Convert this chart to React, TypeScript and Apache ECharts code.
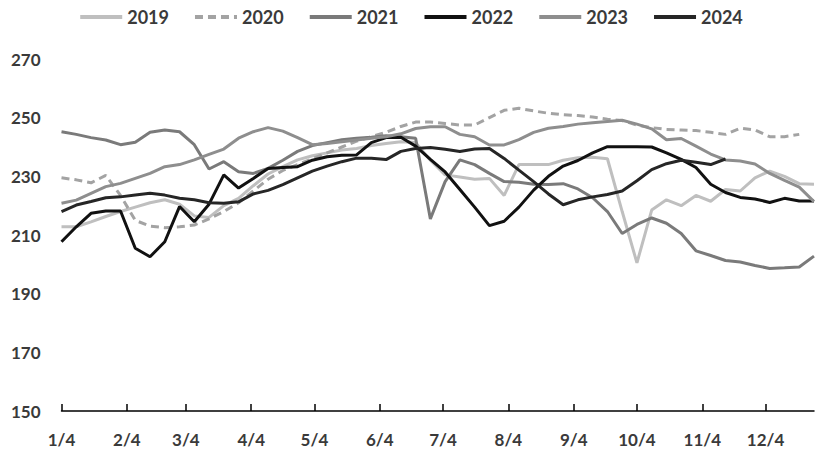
import React, { useEffect, useRef } from "react";
import * as echarts from "echarts";

// x positions are days counted from 1/4; one point per week
const weekStep = 7;
const monthDays = [0, 31, 59, 90, 120, 151, 181, 212, 243, 273, 304, 334];
const monthLabels = ["1/4", "2/4", "3/4", "4/4", "5/4", "6/4", "7/4", "8/4", "9/4", "10/4", "11/4", "12/4"];

const years = ["2019", "2020", "2021", "2022", "2023", "2024"];

const s2019 = [212.8, 212.8, 214.5, 216.3, 218, 219.5, 221, 222, 220.5, 216.5, 216, 220, 222.5, 226.8, 230.8, 233.3, 235.6, 237, 238, 239, 239.5, 240.5, 241.2, 241.8, 241.5, 235.5, 230.5, 229.8, 229, 229.3, 223.5, 234, 234, 234, 235.5, 236.3, 236.5, 236, 218, 200.5, 218.5, 222, 220, 223.5, 221.5, 225.5, 225, 229.5, 231.8, 230, 227.5, 227.3];
const s2020 = [229.5, 228.8, 227.8, 230.3, 223.5, 215, 213, 212.5, 212.8, 213.4, 215.5, 218, 221, 225, 229, 232, 234, 236, 238, 240, 242, 243.5, 245, 247, 248.5, 248.5, 248, 247.5, 247.5, 250, 252.5, 253.2, 252.3, 251.5, 251, 250.7, 250.2, 249.5, 249, 247.5, 246.6, 246, 245.8, 245.6, 245, 244.3, 246.4, 245.8, 243.5, 243.5, 244.3];
const s2021 = [245.2, 244.3, 243.2, 242.4, 240.8, 241.6, 245, 245.8, 245.2, 240.8, 232.5, 235, 231.6, 231, 232.7, 235.5, 238.5, 240.5, 241.5, 242.5, 243, 243.3, 243.8, 243.5, 243, 215.5, 228.2, 235.6, 234, 231, 228.2, 228, 227.3, 227.2, 227.5, 225.7, 222.7, 218, 210.5, 213.6, 215.8, 214, 210.5, 204.6, 203, 201.3, 200.8, 199.6, 198.6, 198.8, 199.1, 202.8];
const s2022 = [207.7, 212.8, 217.4, 218.2, 218.2, 205.5, 202.6, 207.7, 219.7, 214.5, 220.5, 230.5, 226, 229.3, 232.7, 233, 233.3, 235.5, 236.7, 237.2, 237.3, 241.5, 243.2, 243.3, 240.3, 235.8, 231.5, 225.5, 219.5, 213.2, 214.7, 219.5, 225.3, 230, 233.5, 235.4, 238, 240.1, 240.1, 240.1, 240, 238, 235.8, 233, 227.3, 224.5, 222.8, 222.3, 221.1, 222.5, 221.6, 221.6];
const s2023 = [220.8, 221.9, 224.2, 226.5, 227.6, 229.3, 231, 233.3, 234, 235.6, 237.5, 239.3, 243, 245.2, 246.6, 245.4, 243.2, 240.8, 241.2, 241.8, 242.4, 243, 243.5, 244.5, 246.3, 246.9, 246.9, 244.3, 243.5, 240.7, 240.7, 242.5, 245, 246.4, 247, 247.8, 248.3, 248.7, 249.1, 247.8, 246.2, 242.5, 242.9, 240.3, 237.6, 235.6, 235.2, 234.2, 231, 228.6, 226.3, 221.4];
const s2024 = [218, 220.2, 221.4, 222.7, 223, 223.6, 224.2, 223.6, 222.5, 222, 221, 220.8, 221.3, 224, 225.2, 227.2, 229.5, 231.8, 233.5, 235, 236.2, 236.2, 235.7, 238.5, 239.5, 239.8, 239.2, 238.5, 239.3, 239.5, 236.1, 232.1, 228.2, 224, 220.3, 222, 223, 223.8, 225, 228.5, 232.3, 234.3, 235.5, 234.8, 234, 235.9];

const seriesValues = [s2019, s2020, s2021, s2022, s2023, s2024];
const colors = ["#bfbfbf", "#a3a3a3", "#7a7a7a", "#111111", "#8e8e8e", "#262626"];
const dashed = [false, true, false, false, false, false];

const FONT = "Lato, 'Noto Sans', sans-serif";
const TEXT = "#3a3a3a";

export default function App() {
  const ref = useRef<HTMLDivElement>(null);
  useEffect(() => {
    document.body.style.margin = "0";
    if (!ref.current) return;
    const chart = echarts.init(ref.current, undefined, { renderer: "svg" });
    chart.setOption({
      animation: false,
      backgroundColor: "#ffffff",
      legend: {
        data: years,
        top: 3,
        left: "center",
        itemWidth: 42,
        itemHeight: 12,
        itemGap: 24,
        itemStyle: { opacity: 0, borderWidth: 0 },
        lineStyle: { width: 4 },
        textStyle: { fontFamily: FONT, fontWeight: "bold", fontSize: 18, color: TEXT },
      },
      grid: { left: 61.5, right: 7, top: 59, bottom: 49 },
      xAxis: {
        type: "value",
        min: 0,
        max: 357,
        splitLine: { show: false },
        axisLine: { show: true, lineStyle: { color: "#000", width: 1.5 } },
        axisTick: { show: true, inside: true, length: 7, lineStyle: { color: "#000", width: 1.5 }, customValues: monthDays },
        axisLabel: {
          customValues: monthDays,
          formatter: (v: number) => monthLabels[monthDays.indexOf(Math.round(v))] ?? "",
          fontFamily: FONT,
          fontWeight: "bold",
          fontSize: 17,
          color: TEXT,
          margin: 20,
        },
      },
      yAxis: {
        type: "value",
        min: 150,
        max: 270,
        interval: 20,
        splitLine: { show: false },
        axisLine: { show: false },
        axisTick: { show: false },
        axisLabel: { fontFamily: FONT, fontWeight: "bold", fontSize: 17, color: TEXT, margin: 21 },
      },
      series: years.map((name, k) => ({
        name,
        type: "line",
        symbol: "none",
        data: seriesValues[k].map((v, i) => [i * weekStep, v]),
        lineStyle: { color: colors[k], width: 3, type: dashed[k] ? [8, 5] : "solid" },
        itemStyle: { color: colors[k] },
      })),
    });
    return () => chart.dispose();
  }, []);
  return <div ref={ref} style={{ width: 821, height: 460 }} />;
}
